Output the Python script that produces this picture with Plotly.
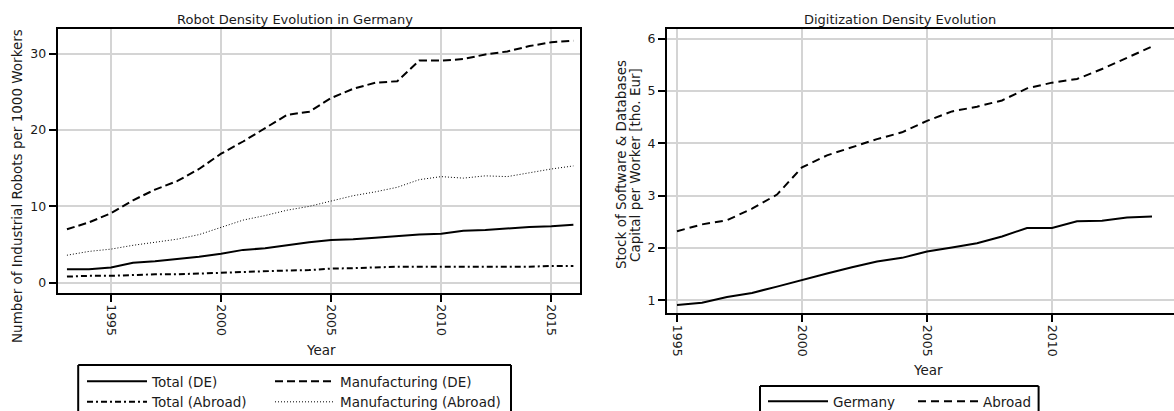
import plotly.graph_objects as go

# ---------------- data ----------------
years_robot = list(range(1993, 2017))
total_de = [1.75, 1.75, 2.0, 2.6, 2.8, 3.1, 3.4, 3.8, 4.3, 4.5, 4.9, 5.3, 5.6, 5.7,
            5.9, 6.1, 6.3, 6.4, 6.8, 6.9, 7.1, 7.3, 7.4, 7.6]
manuf_de = [7.0, 7.9, 9.1, 10.8, 12.2, 13.3, 14.9, 16.9, 18.5, 20.2, 22.0, 22.4, 24.2,
            25.4, 26.2, 26.4, 29.1, 29.1, 29.3, 29.9, 30.3, 31.0, 31.5, 31.7]
total_abroad = [0.8, 0.9, 0.9, 1.0, 1.1, 1.1, 1.2, 1.35, 1.45, 1.5, 1.6, 1.65, 1.85,
                1.9, 2.0, 2.1, 2.1, 2.1, 2.1, 2.1, 2.1, 2.1, 2.2, 2.2]
manuf_abroad = [3.6, 4.1, 4.4, 4.9, 5.3, 5.7, 6.3, 7.2, 8.2, 8.8, 9.5, 10.0, 10.7,
                11.4, 11.9, 12.5, 13.5, 13.9, 13.7, 14.0, 13.9, 14.4, 14.9, 15.3]

years_digi = list(range(1995, 2015))
digi_germany = [0.91, 0.95, 1.06, 1.14, 1.26, 1.39, 1.51, 1.63, 1.74, 1.81, 1.93, 2.01,
                2.09, 2.22, 2.38, 2.38, 2.51, 2.52, 2.58, 2.60]
digi_abroad = [2.32, 2.45, 2.53, 2.75, 3.02, 3.54, 3.77, 3.93, 4.08, 4.21, 4.43, 4.61,
               4.70, 4.82, 5.05, 5.16, 5.23, 5.42, 5.63, 5.85]

robot_yticks = [0, 10, 20, 30]
digi_yticks = [1, 2, 3, 4, 5, 6]
year_ticks = [1995, 2000, 2005, 2010, 2015]

# ---------------- layout constants ----------------
W, H = 1174, 411
FONT = "DejaVu Sans"
TXT = "#1a1a1a"
GRID = "#d4d4d4"

def px_x(p):
    return p / W

def px_y(p):
    return 1 - p / H

fig = go.Figure()

line_styles = [
    ("Total (DE)", years_robot, total_de, dict(color="black", width=2, dash="solid"), "legend"),
    ("Total (Abroad)", years_robot, total_abroad, dict(color="black", width=2, dash="6px,3px,2px,3px"), "legend"),
    ("Manufacturing (DE)", years_robot, manuf_de, dict(color="black", width=2, dash="8px,4px"), "legend2"),
    ("Manufacturing (Abroad)", years_robot, manuf_abroad, dict(color="black", width=1, dash="1px,2px"), "legend2"),
]
for name, xs, ys, ln, lg in line_styles:
    fig.add_trace(go.Scatter(x=xs, y=ys, mode="lines", name=name, line=ln,
                             xaxis="x", yaxis="y", legend=lg))

fig.add_trace(go.Scatter(x=years_digi, y=digi_germany, mode="lines", name="Germany",
                         line=dict(color="black", width=2), xaxis="x2", yaxis="y2",
                         legend="legend3"))
fig.add_trace(go.Scatter(x=years_digi, y=digi_abroad, mode="lines", name="Abroad",
                         line=dict(color="black", width=2, dash="8px,5px"), xaxis="x2",
                         yaxis="y2", legend="legend4"))

axis_common = dict(
    showgrid=True, gridcolor=GRID, gridwidth=1.5, zeroline=False,
    showline=True, linecolor="black", linewidth=2,
    ticks="outside", ticklen=7, tickwidth=1.5, tickcolor="black",
    tickfont=dict(family=FONT, size=12.5, color=TXT),
)

leg_common = dict(orientation="v", bgcolor="rgba(0,0,0,0)", borderwidth=0,
                  font=dict(family=FONT, size=13.5, color=TXT), itemwidth=60,
                  xanchor="left", yanchor="top", tracegroupgap=0)

fig.update_layout(
    width=W, height=H,
    margin=dict(l=0, r=0, t=0, b=0, autoexpand=False),
    paper_bgcolor="white", plot_bgcolor="white",
    showlegend=True,
    xaxis=dict(axis_common, domain=[px_x(57.7), px_x(580)], range=[1992.58, 2016.3],
               tickvals=year_ticks, tickangle=90, mirror=True, anchor="y"),
    yaxis=dict(axis_common, domain=[px_y(292.7), px_y(29.3)], range=[-1.31, 33.2],
               tickvals=robot_yticks, mirror=True, anchor="x"),
    xaxis2=dict(axis_common, domain=[px_x(667), 1.0], range=[1994.6, 2014.88],
                tickvals=year_ticks, tickangle=90, mirror=True, anchor="y2"),
    yaxis2=dict(axis_common, domain=[px_y(313.3), px_y(29.3)], range=[0.75, 6.18],
                tickvals=digi_yticks, mirror=False, anchor="x2"),
    legend=dict(leg_common, x=px_x(82), y=px_y(366)),
    legend2=dict(leg_common, x=px_x(270), y=px_y(366)),
    legend3=dict(leg_common, x=px_x(763), y=px_y(386)),
    legend4=dict(leg_common, x=px_x(913), y=px_y(386)),
)

# legend frames (open at the bottom, cut by the figure edge)
def open_box(x0, x1, ytop):
    for (a, b, c, d) in [(x0, ytop, x1, ytop), (x0, ytop, x0, H), (x1, ytop, x1, H)]:
        fig.add_shape(type="line", xref="paper", yref="paper",
                      x0=px_x(a), y0=px_y(b), x1=px_x(c), y1=px_y(d),
                      line=dict(color="black", width=2))

open_box(78.2, 511, 365)
open_box(760, 1038.6, 386)

ann_font = dict(family=FONT, size=13, color=TXT)
lab_font = dict(family=FONT, size=13.5, color=TXT)
annotations = [
    dict(text="Robot Density Evolution in Germany", x=px_x(295), y=px_y(19), font=ann_font),
    dict(text="Digitization Density Evolution", x=px_x(900), y=px_y(19), font=ann_font),
    dict(text="Year", x=px_x(321), y=px_y(350), font=lab_font),
    dict(text="Year", x=px_x(928), y=px_y(370), font=lab_font),
    dict(text="Number of Industrial Robots per 1000 Workers", x=px_x(17), y=px_y(186),
         textangle=-90, font=lab_font),
    dict(text="Stock of Software & Databases", x=px_x(621), y=px_y(165),
         textangle=-90, font=lab_font),
    dict(text="Capital per Worker [tho. Eur]", x=px_x(635), y=px_y(165),
         textangle=-90, font=lab_font),
]
for a in annotations:
    fig.add_annotation(xref="paper", yref="paper", xanchor="center", yanchor="middle",
                       showarrow=False, **a)

post = (
    "document.documentElement.style.margin='0';"
    "document.documentElement.style.overflow='hidden';"
    "document.body.style.margin='0';"
    "document.body.style.overflow='hidden';"
    "var gd=document.getElementById('{plot_id}');"
    "gd.style.overflow='hidden';"
    "if(gd.parentElement){gd.parentElement.style.height='411px';gd.parentElement.style.overflow='hidden';}"
)
fig.write_html("out.html", config={"displayModeBar": False}, post_script=post)
